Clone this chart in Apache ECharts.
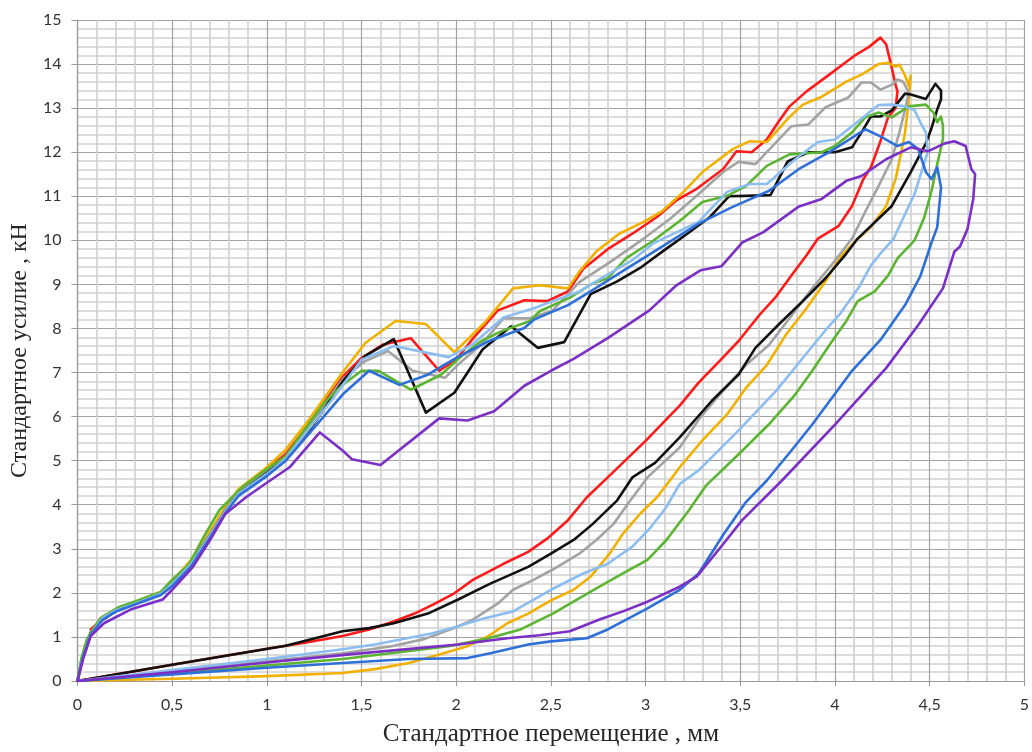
<!DOCTYPE html>
<html>
<head>
<meta charset="utf-8">
<script src="https://cdn.jsdelivr.net/npm/echarts@6/dist/echarts.min.js"></script>
<style>
  html, body { margin: 0; padding: 0; background: #fff; }
  #chart { width: 1032px; height: 752px; }
</style>
</head>
<body>
<div id="chart"></div>
<script>
// Axis ranges and titles
const xTitle = 'Стандартное перемещение , мм';
const yTitle = 'Стандартное усилие , кН';
const xRange = [0, 5, 0.5];
const yRange = [0, 15, 1];

// Load–unload loops: [displacement mm, force kN], loading branch then unloading back to origin
const redCurve = [
  [0.07,1.17],[0.13,1.4],[0.2,1.6],[0.3,1.75],[0.44,2.0],[0.5,2.25],[0.6,2.7],[0.7,3.35],[0.78,3.85],[0.85,4.25],
  [1.0,4.8],[1.1,5.15],[1.2,5.7],[1.3,6.3],[1.4,6.9],[1.5,7.33],[1.61,7.63],[1.76,7.78],[1.91,7.04],[2.0,7.29],
  [2.09,7.78],[2.22,8.41],[2.36,8.64],[2.48,8.62],[2.59,8.84],[2.67,9.35],[2.8,9.8],[2.93,10.15],[3.06,10.53],
  [3.16,10.9],[3.27,11.17],[3.41,11.62],[3.48,12.02],[3.56,12.0],[3.64,12.29],[3.7,12.68],[3.76,13.04],[3.85,13.38],
  [3.97,13.76],[4.11,14.21],[4.18,14.39],[4.24,14.6],[4.27,14.45],[4.29,14.1],[4.32,13.53],[4.33,13.38],[4.32,13.0],
  [4.28,12.79],[4.24,12.25],[4.19,11.66],[4.15,11.39],[4.09,10.78],[4.02,10.33],[3.91,10.04],[3.85,9.66],[3.77,9.2],
  [3.69,8.73],[3.6,8.3],[3.49,7.71],[3.39,7.26],[3.28,6.77],[3.18,6.25],[3.0,5.45],[2.8,4.62],[2.69,4.17],[2.59,3.65],
  [2.48,3.23],[2.38,2.93],[2.25,2.66],[2.09,2.3],[1.99,1.99],[1.88,1.74],[1.78,1.53],[1.67,1.35],[1.54,1.17],
  [1.4,1.02],[1.2,0.87],[1.0,0.73],[0.5,0.37],[0,0]
];
const orangeCurve = [
  [0,0],[0.03,0.6],[0.07,1.1],[0.13,1.45],[0.2,1.62],[0.3,1.78],[0.44,2.02],[0.5,2.25],[0.6,2.75],[0.7,3.4],
  [0.78,3.95],[0.85,4.35],[1.0,4.85],[1.1,5.25],[1.2,5.8],[1.3,6.4],[1.4,7.0],[1.52,7.67],[1.68,8.17],[1.84,8.1],
  [1.99,7.46],[2.15,8.13],[2.3,8.91],[2.44,8.98],[2.59,8.91],[2.65,9.29],[2.74,9.75],[2.86,10.15],[2.99,10.42],
  [3.09,10.67],[3.2,11.1],[3.3,11.55],[3.46,12.07],[3.55,12.25],[3.64,12.23],[3.76,12.8],[3.83,13.08],[3.93,13.26],
  [4.06,13.6],[4.14,13.76],[4.23,14.0],[4.28,14.03],[4.32,13.94],[4.34,13.99],[4.37,13.74],[4.39,13.5],[4.4,13.74],
  [4.39,13.2],[4.37,12.45],[4.35,12.0],[4.32,11.39],[4.27,10.78],[4.19,10.3],[4.1,9.95],[4.03,9.63],[3.95,9.07],
  [3.85,8.46],[3.74,7.85],[3.64,7.17],[3.53,6.65],[3.43,6.05],[3.3,5.46],[3.18,4.85],[3.14,4.62],[3.06,4.17],
  [2.97,3.79],[2.88,3.34],[2.81,2.89],[2.71,2.37],[2.62,2.07],[2.51,1.85],[2.38,1.53],[2.27,1.31],[2.17,1.02],
  [2.06,0.79],[1.92,0.61],[1.75,0.41],[1.57,0.27],[1.4,0.18],[1.0,0.11],[0.5,0.05],[0,0]
];
const grayCurve = [
  [0,0],[0.03,0.6],[0.07,1.1],[0.13,1.4],[0.2,1.6],[0.3,1.76],[0.44,2.0],[0.5,2.22],[0.6,2.7],[0.7,3.33],
  [0.78,3.87],[0.85,4.27],[1.0,4.75],[1.1,5.1],[1.2,5.65],[1.3,6.25],[1.4,6.85],[1.52,7.26],[1.64,7.49],[1.77,7.04],
  [1.94,6.88],[2.01,7.18],[2.13,7.63],[2.25,8.23],[2.39,8.23],[2.51,8.41],[2.65,9.05],[2.81,9.5],[2.99,10.04],
  [3.13,10.49],[3.28,11.05],[3.41,11.55],[3.49,11.78],[3.58,11.73],[3.67,12.14],[3.77,12.59],[3.86,12.63],
  [3.95,13.02],[4.07,13.24],[4.14,13.58],[4.19,13.58],[4.24,13.42],[4.3,13.53],[4.33,13.65],[4.36,13.6],[4.39,13.35],
  [4.37,12.97],[4.34,12.45],[4.3,11.84],[4.23,11.23],[4.16,10.65],[4.09,10.04],[3.98,9.43],[3.88,8.91],[3.76,8.23],
  [3.65,7.62],[3.53,7.17],[3.39,6.5],[3.28,5.93],[3.18,5.3],[3.01,4.62],[2.92,4.1],[2.83,3.56],[2.74,3.2],[2.65,2.89],
  [2.51,2.53],[2.41,2.3],[2.3,2.07],[2.22,1.76],[2.09,1.4],[1.99,1.2],[1.83,0.95],[1.66,0.79],[1.4,0.63],[1.0,0.45],
  [0.5,0.22],[0,0]
];
const blackCurve = [
  [0,0],[0.03,0.6],[0.07,1.1],[0.13,1.38],[0.2,1.58],[0.3,1.75],[0.44,1.98],[0.5,2.2],[0.6,2.65],[0.7,3.3],
  [0.78,3.85],[0.85,4.25],[1.0,4.72],[1.1,5.05],[1.2,5.55],[1.3,6.15],[1.4,6.8],[1.52,7.38],[1.67,7.76],[1.84,6.09],
  [1.99,6.54],[2.14,7.53],[2.29,8.05],[2.43,7.56],[2.57,7.69],[2.71,8.78],[2.85,9.07],[2.98,9.4],[3.09,9.75],
  [3.22,10.15],[3.34,10.53],[3.44,11.0],[3.53,11.01],[3.66,11.03],[3.75,11.79],[3.86,12.0],[4.0,12.0],[4.09,12.11],
  [4.14,12.45],[4.19,12.81],[4.24,12.81],[4.3,12.95],[4.37,13.33],[4.4,13.31],[4.48,13.21],[4.53,13.55],[4.56,13.4],
  [4.56,13.2],[4.54,12.97],[4.51,12.55],[4.48,12.2],[4.4,11.55],[4.3,10.78],[4.12,10.04],[4.06,9.7],[3.95,9.14],
  [3.83,8.62],[3.7,8.08],[3.58,7.56],[3.49,6.95],[3.35,6.36],[3.18,5.53],[3.05,4.95],[2.93,4.62],[2.85,4.1],
  [2.72,3.56],[2.62,3.2],[2.5,2.89],[2.38,2.59],[2.18,2.21],[2.01,1.85],[1.85,1.53],[1.67,1.31],[1.54,1.2],
  [1.4,1.13],[1.1,0.8],[0.5,0.37],[0,0]
];
const greenCurve = [
  [0,0],[0.02,0.5],[0.05,0.95],[0.12,1.42],[0.22,1.68],[0.3,1.8],[0.44,2.02],[0.5,2.3],[0.59,2.65],[0.67,3.3],
  [0.75,3.88],[0.87,4.4],[0.98,4.75],[1.1,5.1],[1.2,5.7],[1.3,6.3],[1.4,6.72],[1.5,7.04],[1.59,7.04],[1.76,6.61],
  [1.92,6.95],[2.03,7.38],[2.13,7.71],[2.24,7.94],[2.39,8.17],[2.44,8.39],[2.6,8.7],[2.72,9.02],[2.8,9.14],[2.9,9.6],
  [3.04,9.99],[3.18,10.44],[3.3,10.87],[3.43,11.01],[3.53,11.23],[3.64,11.69],[3.76,11.95],[3.93,12.0],[4.0,12.14],
  [4.09,12.45],[4.16,12.79],[4.23,12.9],[4.3,12.79],[4.39,13.04],[4.48,13.08],[4.52,12.9],[4.54,12.68],[4.56,12.81],
  [4.57,12.6],[4.57,12.3],[4.54,11.73],[4.51,11.12],[4.47,10.5],[4.42,10.0],[4.33,9.59],[4.28,9.2],[4.21,8.84],
  [4.12,8.62],[4.06,8.17],[3.97,7.62],[3.88,7.04],[3.79,6.5],[3.65,5.82],[3.49,5.14],[3.32,4.44],[3.23,3.88],
  [3.11,3.2],[3.01,2.75],[2.88,2.44],[2.71,2.03],[2.51,1.53],[2.34,1.17],[2.15,0.95],[1.96,0.79],[1.4,0.5],
  [1.0,0.35],[0.5,0.17],[0,0]
];
const lightBlueCurve = [
  [0,0],[0.03,0.55],[0.07,1.05],[0.13,1.42],[0.2,1.6],[0.3,1.75],[0.44,1.98],[0.5,2.2],[0.6,2.65],[0.7,3.3],
  [0.78,3.85],[0.85,4.25],[1.0,4.7],[1.1,5.05],[1.2,5.6],[1.34,6.36],[1.5,7.29],[1.67,7.6],[1.96,7.35],[2.08,7.62],
  [2.25,8.25],[2.41,8.46],[2.51,8.62],[2.65,8.84],[2.83,9.3],[2.93,9.55],[3.04,9.93],[3.28,10.42],[3.43,11.1],
  [3.55,11.28],[3.64,11.28],[3.79,11.84],[3.91,12.23],[4.0,12.29],[4.09,12.59],[4.23,13.07],[4.3,13.08],[4.37,13.04],
  [4.42,12.95],[4.46,12.6],[4.48,12.45],[4.49,12.0],[4.46,11.6],[4.42,11.05],[4.39,10.78],[4.31,10.04],[4.24,9.7],
  [4.19,9.43],[4.13,8.96],[4.03,8.35],[3.95,7.96],[3.83,7.33],[3.69,6.59],[3.49,5.68],[3.28,4.78],[3.18,4.47],
  [3.11,3.95],[3.02,3.45],[2.93,3.05],[2.8,2.66],[2.67,2.44],[2.5,2.07],[2.3,1.58],[2.13,1.4],[2.01,1.24],
  [1.87,1.08],[1.57,0.83],[1.4,0.72],[1.0,0.5],[0.5,0.25],[0,0]
];
const blueCurve = [
  [0,0],[0.03,0.55],[0.07,1.05],[0.13,1.38],[0.2,1.57],[0.3,1.73],[0.44,1.95],[0.5,2.15],[0.6,2.6],[0.7,3.25],
  [0.78,3.8],[0.85,4.2],[1.0,4.65],[1.1,5.0],[1.2,5.5],[1.34,6.2],[1.4,6.5],[1.54,7.04],[1.7,6.72],[1.85,6.95],
  [2.0,7.33],[2.17,7.71],[2.36,8.01],[2.41,8.2],[2.59,8.53],[2.72,8.87],[2.9,9.36],[3.07,9.81],[3.28,10.38],
  [3.46,10.76],[3.65,11.12],[3.81,11.62],[3.97,12.0],[4.12,12.41],[4.16,12.52],[4.24,12.36],[4.33,12.14],[4.39,12.23],
  [4.44,12.07],[4.48,11.55],[4.51,11.39],[4.54,11.66],[4.56,11.2],[4.54,10.3],[4.51,9.95],[4.45,9.18],[4.37,8.53],
  [4.24,7.74],[4.09,7.04],[3.88,5.82],[3.77,5.23],[3.64,4.55],[3.53,4.06],[3.41,3.32],[3.28,2.44],[3.18,2.07],
  [3.01,1.65],[2.8,1.17],[2.69,0.97],[2.5,0.9],[2.38,0.83],[2.18,0.63],[2.06,0.52],[1.75,0.5],[1.4,0.41],[1.0,0.3],
  [0.5,0.15],[0,0]
];
const purpleCurve = [
  [0,0],[0.03,0.5],[0.07,1.02],[0.14,1.31],[0.28,1.62],[0.45,1.85],[0.5,2.07],[0.61,2.59],[0.7,3.2],[0.78,3.79],
  [0.89,4.17],[1.0,4.5],[1.12,4.85],[1.28,5.64],[1.4,5.23],[1.45,5.03],[1.6,4.9],[1.91,5.96],[2.06,5.91],[2.2,6.12],
  [2.36,6.7],[2.5,7.04],[2.62,7.31],[2.8,7.78],[3.02,8.41],[3.16,8.97],[3.29,9.32],[3.4,9.41],[3.51,9.95],[3.62,10.18],
  [3.81,10.77],[3.93,10.94],[4.06,11.35],[4.14,11.46],[4.27,11.84],[4.4,12.11],[4.49,12.02],[4.58,12.2],[4.63,12.25],
  [4.69,12.14],[4.72,11.62],[4.74,11.5],[4.73,10.94],[4.7,10.26],[4.66,9.86],[4.63,9.74],[4.57,8.91],[4.44,8.08],
  [4.27,7.1],[4.0,5.82],[3.72,4.55],[3.51,3.65],[3.41,3.11],[3.27,2.37],[3.18,2.14],[3.01,1.8],[2.88,1.58],
  [2.76,1.4],[2.6,1.13],[2.44,1.04],[2.27,0.97],[2.01,0.83],[1.45,0.61],[1.0,0.42],[0.5,0.2],[0,0]
];

const curves = [
  { data: redCurve, color: '#ff1a1a' },
  { data: orangeCurve, color: '#f2b000' },
  { data: grayCurve, color: '#a3a3a3' },
  { data: blackCurve, color: '#111111' },
  { data: greenCurve, color: '#5cb531' },
  { data: lightBlueCurve, color: '#8bbdf0' },
  { data: blueCurve, color: '#2e6fd8' },
  { data: purpleCurve, color: '#7b2fc6' }
];

const labelFont = 'Lato, "Open Sans", sans-serif';
const titleFont = '"Liberation Serif", "DejaVu Serif", serif';
const majorLine = { color: '#a2a2a2', width: 1.2 };
const minorLine = { color: '#d0d0d0', width: 1.6 };

const chart = echarts.init(document.getElementById('chart'), null, { renderer: 'canvas' });
chart.setOption({
  animation: false,
  backgroundColor: '#ffffff',
  grid: { left: 74, top: 20, width: 953, height: 665, containLabel: false },
  xAxis: {
    type: 'value',
    min: xRange[0], max: xRange[1], interval: xRange[2],
    name: xTitle, nameLocation: 'middle', nameGap: 41,
    nameTextStyle: { fontFamily: titleFont, fontSize: 25, color: '#262626' },
    axisLine: { show: true, lineStyle: { color: '#9a9a9a', width: 1.2 } },
    axisTick: { show: true, length: 5, lineStyle: { color: '#9a9a9a' } },
    axisLabel: {
      margin: 16, fontFamily: labelFont, fontSize: 16, color: '#333',
      formatter: v => String(v).replace('.', ',')
    },
    splitLine: { show: true, lineStyle: majorLine },
    minorTick: { show: false, splitNumber: 5 },
    minorSplitLine: { show: true, lineStyle: minorLine }
  },
  yAxis: {
    type: 'value',
    min: yRange[0], max: yRange[1], interval: yRange[2],
    name: yTitle, nameLocation: 'middle', nameGap: 37, nameRotate: 90,
    nameTextStyle: { fontFamily: titleFont, fontSize: 24, color: '#262626' },
    axisLine: { show: true, lineStyle: { color: '#9a9a9a', width: 1.2 } },
    axisTick: { show: true, length: 6, lineStyle: { color: '#9a9a9a' } },
    axisLabel: { margin: 16, fontFamily: labelFont, fontSize: 16, color: '#333' },
    splitLine: { show: true, lineStyle: majorLine },
    minorTick: { show: false, splitNumber: 5 },
    minorSplitLine: { show: true, lineStyle: minorLine }
  },
  series: curves.map(c => ({
    type: 'line',
    data: c.data,
    showSymbol: false,
    smooth: false,
    clip: true,
    lineStyle: { color: c.color, width: 2.6, join: 'round', cap: 'round' },
    itemStyle: { color: c.color }
  }))
});
</script>
</body>
</html>
